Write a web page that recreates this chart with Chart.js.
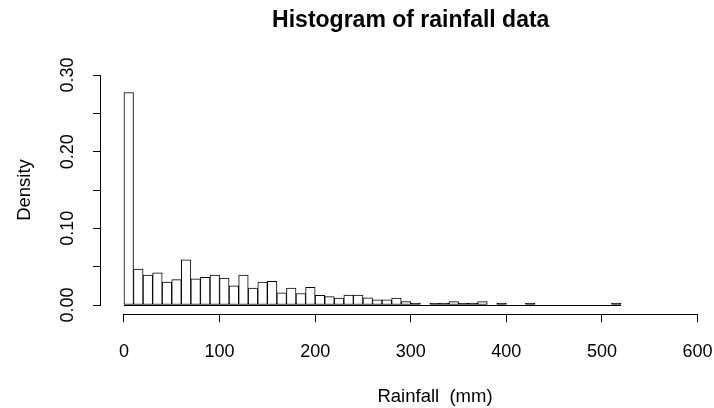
<!DOCTYPE html>
<html>
<head>
<meta charset="utf-8">
<title>Histogram of rainfall data</title>
<script src="https://cdn.jsdelivr.net/npm/chart.js@4.4.1/dist/chart.umd.min.js"></script>
<style>
  html, body { margin: 0; padding: 0; background: #fff; overflow: hidden; }
  canvas { display: block; }
</style>
</head>
<body>
<canvas id="hist" width="732" height="408"></canvas>
<script>
// Histogram bin edges (mm) and the density of each 10 mm bin
const breaks = [0, 10, 20, 30, 40, 50, 60, 70, 80, 90, 100,
                110, 120, 130, 140, 150, 160, 170, 180, 190, 200,
                210, 220, 230, 240, 250, 260, 270, 280, 290, 300,
                310, 320, 330, 340, 350, 360, 370, 380, 390, 400,
                410, 420, 430, 440, 450, 460, 470, 480, 490, 500,
                510, 520];
const density = [0.277, 0.047, 0.039, 0.042, 0.030, 0.033, 0.059, 0.034, 0.036, 0.039,
                 0.035, 0.025, 0.039, 0.022, 0.030, 0.031, 0.016, 0.022, 0.015, 0.023,
                 0.0125, 0.011, 0.009, 0.013, 0.013, 0.0093, 0.0068, 0.0068, 0.009, 0.0045,
                 0.0026, 0, 0.0026, 0.0026, 0.0045, 0.0026, 0.0026, 0.0045, 0, 0.0026,
                 0, 0, 0.0026, 0, 0, 0, 0, 0, 0, 0,
                 0, 0.0026];

// Axis ticks
const xTicks = [0, 100, 200, 300, 400, 500, 600];
const yTicks = [0, 0.05, 0.10, 0.15, 0.20, 0.25, 0.30];
const yLabelValues = [0, 0.10, 0.20, 0.30];
const yLabels = ['0.00', '0.10', '0.20', '0.30'];
const xTitle = 'Rainfall  (mm)';

const FONT = 'Liberation Sans, Arial, Helvetica, sans-serif';
const INK = '#000';

const points = density.map((d, i) => ({ x: (breaks[i] + breaks[i + 1]) / 2, y: d }));

// R-style axis lines (first tick to last tick), the zero-height bin line,
// rotated y tick labels and the x axis label
const rAxes = {
  id: 'rAxes',
  afterDatasetsDraw(chart) {
    const { ctx, scales: { x, y } } = chart;
    const y0 = Math.round(y.getPixelForValue(0)) + 0.5;
    ctx.save();
    ctx.strokeStyle = INK;
    ctx.lineWidth = 1;
    ctx.beginPath();
    ctx.moveTo(x.getPixelForValue(breaks[0]), y0);
    ctx.lineTo(x.getPixelForValue(breaks[breaks.length - 1]), y0);
    ctx.stroke();
    ctx.restore();
  },
  afterDraw(chart) {
    const { ctx, chartArea, scales: { x, y } } = chart;
    ctx.save();
    ctx.strokeStyle = INK;
    ctx.lineWidth = 1;
    const ax = Math.round(chartArea.left) - 0.5;
    ctx.beginPath();
    ctx.moveTo(ax, y.getPixelForValue(yTicks[0]));
    ctx.lineTo(ax, y.getPixelForValue(yTicks[yTicks.length - 1]));
    const ay = Math.round(chartArea.bottom) + 0.5;
    ctx.moveTo(x.getPixelForValue(xTicks[0]), ay);
    ctx.lineTo(x.getPixelForValue(xTicks[xTicks.length - 1]), ay);
    ctx.stroke();

    ctx.fillStyle = INK;
    ctx.font = '18px ' + FONT;
    ctx.textAlign = 'center';
    ctx.textBaseline = 'middle';
    yLabelValues.forEach((v, i) => {
      ctx.save();
      ctx.translate(chartArea.left - 33, y.getPixelForValue(v));
      ctx.rotate(-Math.PI / 2);
      ctx.fillText(yLabels[i], 0, 0);
      ctx.restore();
    });

    ctx.font = '18.5px ' + FONT;
    ctx.fillText(xTitle, chartArea.left + 334, chartArea.bottom + 83);
    ctx.restore();
  }
};

new Chart(document.getElementById('hist'), {
  type: 'bar',
  data: {
    datasets: [{
      data: points,
      // very short bars collapse into a solid outline
      backgroundColor: c => (c.raw && c.raw.y < 0.003 ? INK : '#fff'),
      borderColor: INK,
      borderWidth: 1,
      borderSkipped: false,
      barPercentage: 1,
      categoryPercentage: 1
    }]
  },
  options: {
    responsive: false,
    animation: false,
    devicePixelRatio: 1,
    layout: { padding: 0 },
    plugins: {
      legend: { display: false },
      tooltip: { enabled: false },
      title: {
        display: true,
        text: 'Histogram of rainfall data',
        fullSize: false,
        color: INK,
        font: { family: FONT, size: 23, weight: 'bold' },
        padding: { top: 6.4, bottom: 31.8 }
      }
    },
    scales: {
      x: {
        type: 'linear',
        min: -24,
        max: 624,
        offset: false,
        grid: { offset: false, drawOnChartArea: false, drawTicks: true, tickLength: 8, color: INK, lineWidth: 1 },
        border: { display: false },
        ticks: { color: INK, font: { family: FONT, size: 18 }, padding: 19, maxRotation: 0, autoSkip: false },
        afterBuildTicks: s => { s.ticks = xTicks.map(v => ({ value: v })); },
        afterFit: s => { s.height = 93.8; },
        title: { display: false }
      },
      y: {
        type: 'linear',
        min: -0.012,
        max: 0.312,
        grid: { drawOnChartArea: false, drawTicks: true, tickLength: 8, color: INK, lineWidth: 1 },
        border: { display: false },
        ticks: { display: false },
        afterBuildTicks: s => { s.ticks = yTicks.map(v => ({ value: v })); },
        afterFit: s => { s.width = 101; },
        title: { display: true, text: 'Density', color: INK, font: { family: FONT, size: 18.5 }, padding: { top: 14, bottom: 0 } }
      }
    }
  },
  plugins: [rAxes]
});
</script>
</body>
</html>
